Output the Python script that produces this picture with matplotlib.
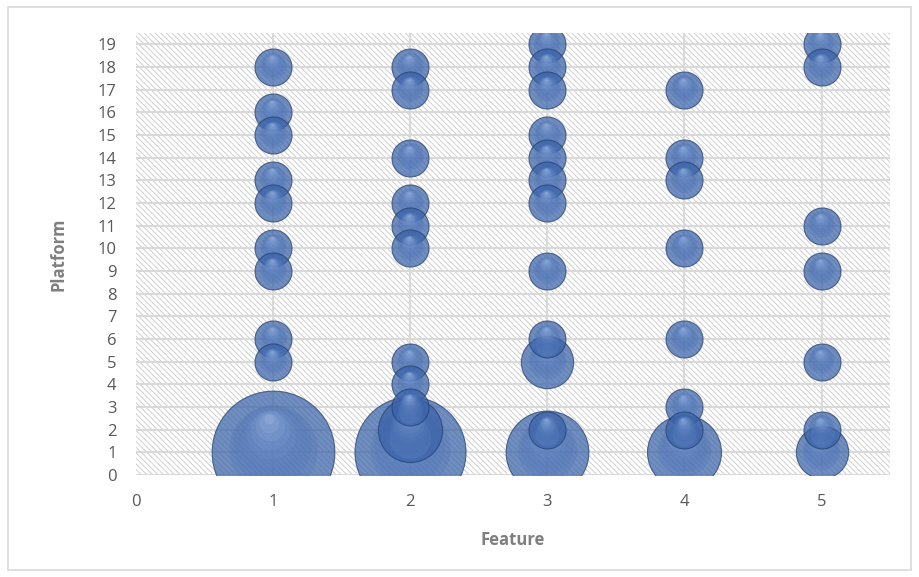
import numpy as np
import matplotlib.pyplot as plt
from matplotlib import transforms
from matplotlib.colors import to_rgb
from matplotlib.patches import Rectangle

# bubble data: feature (x), platform (y), count (bubble size)
feature = [1, 1, 1, 1, 1, 1, 1, 1, 1, 1,
           2, 2, 2, 2, 2, 2, 2, 2, 2, 2, 2,
           3, 3, 3, 3, 3, 3, 3, 3, 3, 3, 3, 3,
           4, 4, 4, 4, 4, 4, 4, 4,
           5, 5, 5, 5, 5, 5, 5]
platform = [1, 5, 6, 9, 10, 12, 13, 15, 16, 18,
            1, 2, 3, 4, 5, 10, 11, 12, 14, 17, 18,
            1, 2, 5, 6, 9, 12, 13, 14, 15, 17, 18, 19,
            1, 2, 3, 6, 10, 13, 14, 17,
            1, 2, 5, 9, 11, 18, 19]
count = [11, 1, 1, 1, 1, 1, 1, 1, 1, 1,
         9, 3, 1, 1, 1, 1, 1, 1, 1, 1, 1,
         5, 1, 2, 1, 1, 1, 1, 1, 1, 1, 1, 1,
         4, 1, 1, 1, 1, 1, 1, 1,
         2, 1, 1, 1, 1, 1, 1]

xticks = [0, 1, 2, 3, 4, 5]
yticks = list(range(0, 20))

fig = plt.figure(figsize=(9.19, 5.77), dpi=100)
ax = fig.add_axes([0.148, 0.177, 0.8205, 0.766])

# outer chart border
fig.patches.append(Rectangle((0.009, 0.012), 0.982, 0.976, transform=fig.transFigure,
                             fill=False, edgecolor='#d9d9d9', lw=1.2))

# hatched plot area
plt.rcParams['hatch.linewidth'] = 0.7
plt.rcParams['hatch.color'] = '#cfcfcf'
ax.add_patch(Rectangle((0, 0), 1, 1, transform=ax.transAxes, facecolor='white',
                       edgecolor='#cfcfcf', hatch='\\\\\\\\\\\\', lw=0, zorder=0))

ax.set_xlim(0, 5.5)
ax.set_ylim(0, 19.5)
ax.set_xticks(xticks)
ax.set_yticks(yticks)
for v in yticks:
    ax.axhline(v, color='#d9d9d9', lw=1.5, zorder=1)
for v in xticks[1:]:
    ax.axvline(v, color='#d9d9d9', lw=1.5, zorder=1)
for s in ax.spines.values():
    s.set_visible(False)

ax.tick_params(length=0, labelsize=12, labelcolor='#595959', pad=14)
for lbl in ax.get_xticklabels() + ax.get_yticklabels():
    lbl.set_family('Open Sans')
ax.set_xlabel('Feature', fontsize=12, fontweight='bold', color='#7f7f7f',
              family='Open Sans', labelpad=15)
ax.set_ylabel('Platform', fontsize=12, fontweight='bold', color='#7f7f7f',
              family='Open Sans', labelpad=22)

# draw bubbles as glassy spheres, larger ones first
base = np.array(to_rgb('#3a62a8'))
light = np.array(to_rgb('#b4cdf5'))
order = sorted(range(len(count)), key=lambda i: (-count[i], -platform[i]))
z = 3
for i in order:
    r_pt = 18.5 * np.sqrt(count[i]) * 0.72
    x, y = feature[i], platform[i]
    ax.scatter(x, y, s=(2 * r_pt) ** 2, color=base, alpha=0.72,
               edgecolors='#24406e', linewidths=0.8, zorder=z)
    z += 1
    # soft lighter glow in the lower half
    tr = transforms.offset_copy(ax.transData, fig=fig, x=0, y=-0.25 * r_pt, units='points')
    ax.scatter(x, y, s=(2 * r_pt * 0.65) ** 2, color='#6f93d0', alpha=0.18,
               linewidths=0, transform=tr, zorder=z)
    z += 1
    # highlight towards the top
    n = 9
    for k in range(1, n + 1):
        f = 0.8 * (1 - k / (n + 1))
        dy = (0.8 - f) / 0.8 * 0.6 * r_pt
        dx = -(0.8 - f) / 0.8 * 0.08 * r_pt
        tr = transforms.offset_copy(ax.transData, fig=fig, x=dx, y=dy, units='points')
        c = base + (light - base) * (k / n) ** 1.2
        ax.scatter(x, y, s=(2 * r_pt * f) ** 2, color=c, alpha=0.2,
                   linewidths=0, transform=tr, zorder=z)
        z += 1

fig.savefig('out.png', dpi=100)
